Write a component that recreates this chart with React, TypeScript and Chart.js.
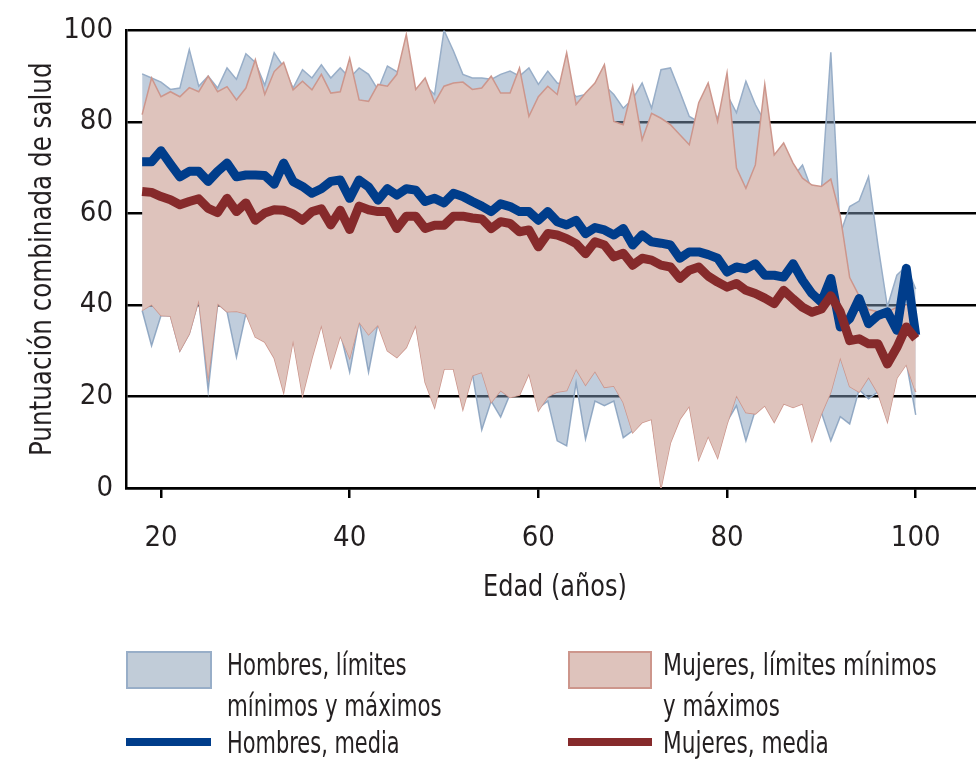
import React, { useEffect, useLayoutEffect, useRef } from 'react';
import { Chart, registerables } from 'chart.js';

Chart.register(...registerables);

const ages = [
  18, 19, 20, 21, 22, 23, 24, 25, 26, 27, 28, 29,
  30, 31, 32, 33, 34, 35, 36, 37, 38, 39,
  40, 41, 42, 43, 44, 45, 46, 47, 48, 49,
  50, 51, 52, 53, 54, 55, 56, 57, 58, 59,
  60, 61, 62, 63, 64, 65, 66, 67, 68, 69,
  70, 71, 72, 73, 74, 75, 76, 77, 78, 79,
  80, 81, 82, 83, 84, 85, 86, 87, 88, 89,
  90, 91, 92, 93, 94, 95, 96, 97, 98, 99, 100,
];

const menMean = [
  71.3, 71.3, 73.7, 70.8, 68, 69.2, 69.2, 67, 69.2, 71, 68, 68.4,
  68.4, 68.3, 66.4, 71, 67, 65.9, 64.4, 65.4, 67, 67.3,
  63.3, 67.3, 65.8, 62.9, 65.4, 64, 65.4, 65.1, 62.6, 63.3,
  62.3, 64.4, 63.7, 62.6, 61.6, 60.4, 62.1, 61.5, 60.4, 60.4,
  58.5, 60.4, 58.2, 57.5, 58.5, 55.6, 56.9, 56.4, 55.3, 56.7,
  53.1, 55.3, 53.8, 53.5, 53.1, 50.2, 51.6, 51.6, 51, 50.2,
  47.2, 48.3, 47.9, 49, 46.5, 46.5, 46.1, 49, 45.4, 42.5,
  40.6, 45.8, 35.2, 37, 41.4, 35.9, 37.7, 38.5, 34.5, 48, 33.4,
];

const womenMean = [
  64.8, 64.6, 63.7, 63, 61.9, 62.6, 63.2, 61.1, 60.2, 63.3, 60.4, 62.3,
  58.5, 60.1, 60.8, 60.7, 59.9, 58.5, 60.4, 61, 57.5, 60.7,
  56.5, 61.6, 60.8, 60.4, 60.4, 56.7, 59.4, 59.4, 56.7, 57.4,
  57.4, 59.4, 59.4, 59, 58.8, 56.7, 58.2, 57.8, 56, 56.4,
  52.7, 55.6, 55.3, 54.5, 53.4, 51.2, 53.8, 53.1, 50.5, 51.3,
  48.7, 50.2, 49.8, 48.7, 48.3, 45.8, 47.6, 48.3, 46.3, 45,
  43.9, 44.7, 43.2, 42.5, 41.5, 40.3, 43.2, 41.3, 39.5, 38.4,
  39.1, 42, 38.5, 32.2, 32.6, 31.5, 31.5, 27.1, 30.7, 35.2, 32.6,
];

const womenMax = [
  81.6, 89.6, 85.5, 86.6, 85.5, 87.5, 86.6, 90, 86.6, 87.7, 84.8, 87.4,
  93.6, 86, 91, 93, 87, 88.9, 87, 90.4, 86.3, 86.6,
  93.9, 84.8, 84.5, 88.2, 87.8, 90.4, 99.1, 87.1, 89.6, 84.2,
  87.8, 88.5, 88.7, 87.1, 87.4, 90, 86.3, 86.3, 91.8, 81.2,
  85.5, 87.8, 86, 95.1, 83.8, 86.3, 88.5, 92.5, 80.1, 79.4,
  87.8, 76.1, 81.9, 80.8, 79.4, 77.2, 75, 84.2, 88.5, 80.1,
  90.7, 69.9, 65.5, 70.6, 88.2, 72.8, 75.4, 71, 67.7, 66.2,
  65.9, 67.5, 59.5, 46, 42, 39, 38.5, 38.5, 39.5, 40, 40,
];

const womenMin = [
  38.8, 40.1, 37.7, 37.6, 30, 33.7, 41.1, 24.2, 40.3, 38.5, 38.6, 38.1,
  33, 31.9, 28.4, 20.9, 32.3, 20.2, 28.4, 35.6, 26.4, 33.2,
  28.4, 36.3, 33.5, 35.6, 30, 28.5, 30.7, 35.6, 23.1, 17.6,
  26, 26, 17.2, 24.6, 25.3, 18.7, 21.3, 19.8, 20.3, 25,
  16.9, 20, 21, 21.3, 26, 22.5, 25.5, 22, 22.3, 18.7,
  12.1, 14.3, 15, 0, 9.9, 15, 17.9, 6.2, 11.3, 6.6,
  14, 20.2, 16.5, 16.2, 18, 14.4, 18.4, 17.6, 18.4, 10.3,
  16.2, 21, 28.5, 22.2, 21, 24.2, 20.7, 14.5, 24, 27, 21,
];

const menMax = [
  90.5, 89.6, 88.7, 87.1, 87.4, 95.8, 87.8, 90, 87.4, 91.8, 89.3, 94.9,
  93, 88, 95.1, 92, 87.4, 91.4, 89.6, 92.5, 89.6, 91.8,
  89.6, 91.8, 90.4, 87, 92.2, 91, 92, 86, 88, 86,
  100, 95.5, 90.4, 89.6, 89.6, 89.3, 90.4, 91.1, 90, 91.8,
  88.2, 91.1, 88.5, 88, 85.5, 86, 87, 88, 86, 83,
  85, 88.5, 83, 91.4, 91.8, 86.6, 81.2, 80, 80, 81,
  86, 82, 88.9, 83.8, 80, 72, 72, 68, 70.6, 65,
  65, 95.2, 55.5, 61.5, 62.7, 68, 53, 39.6, 46.5, 48.5, 43.5,
];

const menMin = [
  38.8, 31.1, 37.7, 37.6, 30, 33.7, 41.1, 21.3, 40.3, 38.5, 28.6, 38.1,
  34, 33, 29, 22, 33, 21, 29, 36, 27, 34,
  25.3, 36.5, 25.3, 36, 31, 29, 31, 36, 24, 18.5,
  26.5, 26.5, 18, 25, 12.7, 19, 15.5, 20.5, 21, 25.5,
  17.5, 19, 10.3, 9.2, 23, 10.7, 19, 18, 19, 11,
  12.5, 15, 15.5, 1, 10.5, 15.5, 18.5, 7, 12, 7,
  14.5, 18, 10.3, 17, 18.5, 15, 19, 18, 19, 11,
  16.5, 10.3, 15.6, 14, 21.5, 19.5, 21, 15, 25, 27.5, 16,
];

const xTickValues = [20, 40, 60, 80, 100];
const yTickValues = [0, 20, 40, 60, 80, 100];

const xTitle = 'Edad (años)';
const yTitle = 'Puntuación combinada de salud';
const legendMenRange = ['Hombres, límites', 'mínimos y máximos'];
const legendMenMean = 'Hombres, media';
const legendWomenRange = ['Mujeres, límites mínimos', 'y máximos'];
const legendWomenMean = 'Mujeres, media';

const FONT =
  '"Liberation Sans Narrow", "DejaVu Sans Condensed", "Roboto Condensed", "Arial Narrow", sans-serif';
const TEXT = '#231f20';
const BLUE = '#003d8b';
const RED = '#862a2b';
const BLUE_FILL = 'rgba(130,155,185,0.5)';
const BLUE_EDGE = 'rgb(152,174,200)';
const PINK_FILL = 'rgb(222,195,188)';
const PINK_EDGE = 'rgb(205,150,140)';

function pts(values: number[]) {
  return ages.map((a, i) => ({ x: a, y: values[i] }));
}

type FitProps = {
  text: string;
  left: number;
  top: number;
  width: number;
  size: number;
  rotate?: boolean;
};

function FitText({ text, left, top, width, size, rotate }: FitProps) {
  const ref = useRef<HTMLSpanElement>(null);
  useLayoutEffect(() => {
    const el = ref.current;
    if (!el) return;
    el.style.transform = 'none';
    const w = el.offsetWidth || 1;
    const s = width / w;
    el.style.transform = rotate ? `rotate(-90deg) scaleX(${s})` : `scaleX(${s})`;
  }, [text, width, rotate]);
  return (
    <span
      ref={ref}
      style={{
        position: 'absolute',
        left,
        top,
        fontFamily: FONT,
        fontSize: size,
        lineHeight: size + 'px',
        whiteSpace: 'nowrap',
        transformOrigin: 'left top',
        color: TEXT,
        display: 'inline-block',
      }}
    >
      {text}
    </span>
  );
}

export default function App() {
  const canvasRef = useRef<HTMLCanvasElement>(null);

  useEffect(() => {
    const canvas = canvasRef.current;
    if (!canvas) return;
    const chart = new Chart(canvas, {
      type: 'line',
      data: {
        datasets: [
          {
            label: legendWomenMean,
            data: pts(womenMean),
            borderColor: RED,
            borderWidth: 9,
            pointRadius: 0,
            fill: false,
            borderJoinStyle: 'round',
            tension: 0,
          },
          {
            label: legendMenMean,
            data: pts(menMean),
            borderColor: BLUE,
            borderWidth: 9,
            pointRadius: 0,
            fill: false,
            borderJoinStyle: 'round',
            tension: 0,
          },
          {
            label: 'Mujeres máx',
            data: pts(womenMax),
            borderColor: PINK_EDGE,
            borderWidth: 1.5,
            pointRadius: 0,
            backgroundColor: PINK_FILL,
            fill: '+1',
            tension: 0,
          },
          {
            label: 'Mujeres mín',
            data: pts(womenMin),
            borderColor: PINK_EDGE,
            borderWidth: 1.5,
            pointRadius: 0,
            fill: false,
            tension: 0,
          },
          {
            label: 'Hombres máx',
            data: pts(menMax),
            borderColor: BLUE_EDGE,
            borderWidth: 1.5,
            pointRadius: 0,
            backgroundColor: BLUE_FILL,
            fill: '+1',
            tension: 0,
          },
          {
            label: 'Hombres mín',
            data: pts(menMin),
            borderColor: BLUE_EDGE,
            borderWidth: 1.5,
            pointRadius: 0,
            fill: false,
            tension: 0,
          },
        ],
      },
      options: {
        animation: false,
        responsive: false,
        devicePixelRatio: 1,
        layout: { padding: { top: 30, left: 0, right: 0, bottom: 0 } },
        plugins: {
          legend: { display: false },
          tooltip: { enabled: false },
          title: { display: false },
        },
        scales: {
          x: {
            type: 'linear',
            min: 16.29,
            max: 106.39,
            afterFit: (s: any) => {
              s.height = 273;
            },
            afterBuildTicks: (s: any) => {
              s.ticks = xTickValues.map((v) => ({ value: v }));
            },
            grid: {
              display: true,
              drawOnChartArea: false,
              drawTicks: true,
              tickLength: 10,
              color: '#000',
              lineWidth: 2.5,
            },
            border: { display: true, color: '#000', width: 2.5 },
            ticks: {
              color: TEXT,
              padding: 23,
              font: { family: FONT, size: 29 },
              maxRotation: 0,
            },
          },
          y: {
            type: 'linear',
            min: 0,
            max: 100,
            afterFit: (s: any) => {
              s.width = 126;
            },
            afterBuildTicks: (s: any) => {
              s.ticks = yTickValues.map((v) => ({ value: v }));
            },
            grid: {
              display: true,
              drawTicks: false,
              color: '#000',
              lineWidth: 2.5,
            },
            border: { display: true, color: '#000', width: 2.5 },
            ticks: {
              color: TEXT,
              padding: 13,
              font: { family: FONT, size: 29 },
            },
          },
        },
      },
    } as any);
    return () => chart.destroy();
  }, []);

  return (
    <div style={{ position: 'absolute', left: 0, top: 0, width: 976, height: 761, background: '#fff', overflow: 'hidden' }}>
      <canvas
        ref={canvasRef}
        width={976}
        height={761}
        style={{ position: 'absolute', left: 0, top: 0, width: 976, height: 761 }}
      />
      <FitText text={yTitle} left={25.6} top={456} width={394} size={30} rotate />
      <FitText text={xTitle} left={483} top={571} width={144} size={30} />

      <div
        style={{
          position: 'absolute',
          left: 126,
          top: 651,
          width: 86,
          height: 38,
          boxSizing: 'border-box',
          background: 'rgb(193,204,216)',
          border: '2.5px solid ' + BLUE_EDGE,
        }}
      />
      <FitText text={legendMenRange[0]} left={227} top={650} width={180} size={30} />
      <FitText text={legendMenRange[1]} left={227} top={691} width={215} size={30} />
      <div style={{ position: 'absolute', left: 126, top: 738, width: 85, height: 8, background: BLUE }} />
      <FitText text={legendMenMean} left={227} top={728} width={173} size={30} />

      <div
        style={{
          position: 'absolute',
          left: 568,
          top: 651,
          width: 84,
          height: 38,
          boxSizing: 'border-box',
          background: PINK_FILL,
          border: '2.5px solid ' + PINK_EDGE,
        }}
      />
      <FitText text={legendWomenRange[0]} left={663} top={650} width={274} size={30} />
      <FitText text={legendWomenRange[1]} left={663} top={691} width={117} size={30} />
      <div style={{ position: 'absolute', left: 568, top: 738, width: 84, height: 8, background: RED }} />
      <FitText text={legendWomenMean} left={663} top={728} width={166} size={30} />
    </div>
  );
}
